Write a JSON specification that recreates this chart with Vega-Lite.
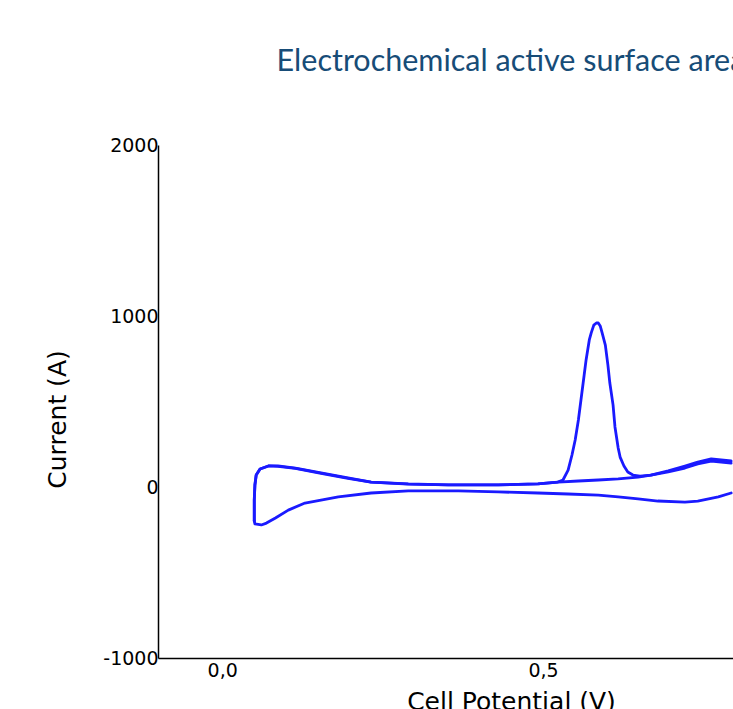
{
  "$schema": "https://vega.github.io/schema/vega-lite/v6.json",
  "autosize": {"type": "none"},
  "padding": {"left": 158, "top": 145, "right": -131, "bottom": 51},
  "width": 706,
  "height": 513,
  "background": "white",
  "title": {
    "text": "Electrochemical active surface area",
    "font": "Lato",
    "fontSize": 30.5,
    "fontWeight": "normal",
    "color": "#174c77",
    "anchor": "middle",
    "offset": 59
  },
  "data": {
    "values": [
      {"seg": "c1", "i": 1, "v": 0.050, "c": -199},
      {"seg": "c1", "i": 2, "v": 0.050, "c": -76},
      {"seg": "c1", "i": 3, "v": 0.051, "c": 12},
      {"seg": "c1", "i": 4, "v": 0.053, "c": 70},
      {"seg": "c1", "i": 5, "v": 0.059, "c": 105},
      {"seg": "c1", "i": 6, "v": 0.072, "c": 123},
      {"seg": "c1", "i": 7, "v": 0.087, "c": 123},
      {"seg": "c1", "i": 8, "v": 0.114, "c": 111},
      {"seg": "c1", "i": 9, "v": 0.154, "c": 82},
      {"seg": "c1", "i": 10, "v": 0.196, "c": 53},
      {"seg": "c1", "i": 11, "v": 0.232, "c": 29},
      {"seg": "c1", "i": 12, "v": 0.290, "c": 18},
      {"seg": "c1", "i": 13, "v": 0.352, "c": 12},
      {"seg": "c1", "i": 14, "v": 0.430, "c": 12},
      {"seg": "c1", "i": 15, "v": 0.492, "c": 18},
      {"seg": "c1", "i": 16, "v": 0.523, "c": 29},
      {"seg": "c1", "i": 17, "v": 0.531, "c": 41},
      {"seg": "c1", "i": 18, "v": 0.539, "c": 99},
      {"seg": "c1", "i": 19, "v": 0.545, "c": 187},
      {"seg": "c1", "i": 20, "v": 0.550, "c": 275},
      {"seg": "c1", "i": 21, "v": 0.555, "c": 392},
      {"seg": "c1", "i": 22, "v": 0.559, "c": 509},
      {"seg": "c1", "i": 23, "v": 0.564, "c": 655},
      {"seg": "c1", "i": 24, "v": 0.567, "c": 743},
      {"seg": "c1", "i": 25, "v": 0.572, "c": 860},
      {"seg": "c1", "i": 26, "v": 0.575, "c": 901},
      {"seg": "c1", "i": 27, "v": 0.579, "c": 947},
      {"seg": "c1", "i": 28, "v": 0.583, "c": 959},
      {"seg": "c1", "i": 29, "v": 0.586, "c": 959},
      {"seg": "c1", "i": 30, "v": 0.589, "c": 942},
      {"seg": "c1", "i": 31, "v": 0.592, "c": 901},
      {"seg": "c1", "i": 32, "v": 0.597, "c": 830},
      {"seg": "c1", "i": 33, "v": 0.601, "c": 713},
      {"seg": "c1", "i": 34, "v": 0.604, "c": 608},
      {"seg": "c1", "i": 35, "v": 0.609, "c": 480},
      {"seg": "c1", "i": 36, "v": 0.612, "c": 351},
      {"seg": "c1", "i": 37, "v": 0.617, "c": 228},
      {"seg": "c1", "i": 38, "v": 0.620, "c": 175},
      {"seg": "c1", "i": 39, "v": 0.626, "c": 123},
      {"seg": "c1", "i": 40, "v": 0.632, "c": 88},
      {"seg": "c1", "i": 41, "v": 0.640, "c": 70},
      {"seg": "c1", "i": 42, "v": 0.651, "c": 64},
      {"seg": "c1", "i": 43, "v": 0.668, "c": 70},
      {"seg": "c1", "i": 44, "v": 0.695, "c": 94},
      {"seg": "c1", "i": 45, "v": 0.721, "c": 123},
      {"seg": "c1", "i": 46, "v": 0.741, "c": 146},
      {"seg": "c1", "i": 47, "v": 0.762, "c": 164},
      {"seg": "c1", "i": 48, "v": 0.793, "c": 152},
      {"seg": "cat", "i": 1, "v": 0.793, "c": -35},
      {"seg": "cat", "i": 2, "v": 0.773, "c": -58},
      {"seg": "cat", "i": 3, "v": 0.741, "c": -82},
      {"seg": "cat", "i": 4, "v": 0.721, "c": -88},
      {"seg": "cat", "i": 5, "v": 0.679, "c": -82},
      {"seg": "cat", "i": 6, "v": 0.648, "c": -70},
      {"seg": "cat", "i": 7, "v": 0.617, "c": -58},
      {"seg": "cat", "i": 8, "v": 0.586, "c": -47},
      {"seg": "cat", "i": 9, "v": 0.539, "c": -41},
      {"seg": "cat", "i": 10, "v": 0.492, "c": -35},
      {"seg": "cat", "i": 11, "v": 0.430, "c": -29},
      {"seg": "cat", "i": 12, "v": 0.368, "c": -23},
      {"seg": "cat", "i": 13, "v": 0.290, "c": -23},
      {"seg": "cat", "i": 14, "v": 0.232, "c": -35},
      {"seg": "cat", "i": 15, "v": 0.181, "c": -58},
      {"seg": "cat", "i": 16, "v": 0.129, "c": -94},
      {"seg": "cat", "i": 17, "v": 0.103, "c": -135},
      {"seg": "cat", "i": 18, "v": 0.083, "c": -181},
      {"seg": "cat", "i": 19, "v": 0.069, "c": -211},
      {"seg": "cat", "i": 20, "v": 0.061, "c": -222},
      {"seg": "cat", "i": 21, "v": 0.051, "c": -216},
      {"seg": "cat", "i": 22, "v": 0.050, "c": -199},
      {"seg": "c2", "i": 1, "v": 0.050, "c": -199},
      {"seg": "c2", "i": 2, "v": 0.050, "c": -76},
      {"seg": "c2", "i": 3, "v": 0.051, "c": 12},
      {"seg": "c2", "i": 4, "v": 0.053, "c": 70},
      {"seg": "c2", "i": 5, "v": 0.059, "c": 105},
      {"seg": "c2", "i": 6, "v": 0.072, "c": 123},
      {"seg": "c2", "i": 7, "v": 0.087, "c": 121},
      {"seg": "c2", "i": 8, "v": 0.114, "c": 109},
      {"seg": "c2", "i": 9, "v": 0.154, "c": 80},
      {"seg": "c2", "i": 10, "v": 0.196, "c": 51},
      {"seg": "c2", "i": 11, "v": 0.232, "c": 28},
      {"seg": "c2", "i": 12, "v": 0.290, "c": 17},
      {"seg": "c2", "i": 13, "v": 0.352, "c": 12},
      {"seg": "c2", "i": 14, "v": 0.430, "c": 12},
      {"seg": "c2", "i": 15, "v": 0.492, "c": 18},
      {"seg": "c2", "i": 16, "v": 0.523, "c": 29},
      {"seg": "c2", "i": 17, "v": 0.555, "c": 35},
      {"seg": "c2", "i": 18, "v": 0.586, "c": 41},
      {"seg": "c2", "i": 19, "v": 0.617, "c": 47},
      {"seg": "c2", "i": 20, "v": 0.648, "c": 58},
      {"seg": "c2", "i": 21, "v": 0.668, "c": 70},
      {"seg": "c2", "i": 22, "v": 0.695, "c": 88},
      {"seg": "c2", "i": 23, "v": 0.721, "c": 111},
      {"seg": "c2", "i": 24, "v": 0.741, "c": 135},
      {"seg": "c2", "i": 25, "v": 0.762, "c": 152},
      {"seg": "c2", "i": 26, "v": 0.793, "c": 140}
    ]
  },
  "mark": {"type": "line", "color": "#1a1aff", "strokeWidth": 2.8, "strokeJoin": "round", "strokeCap": "round"},
  "encoding": {
    "x": {
      "field": "v", "type": "quantitative",
      "scale": {"domain": [-0.1, 1.0], "nice": false, "zero": false},
      "axis": {
        "title": "Cell Potential (V)",
        "values": [0, 0.5],
        "labelExpr": "replace(format(datum.value, '.1f'), '.', ',')",
        "grid": false, "ticks": false,
        "domainColor": "black", "domainWidth": 1.5,
        "labelFont": "DejaVu Sans", "labelFontSize": 19, "labelColor": "black",
        "labelPadding": 3, "labelFlush": false,
        "titleFont": "DejaVu Sans", "titleFontSize": 25, "titleFontWeight": "normal", "titleColor": "black",
        "titlePadding": 9
      }
    },
    "y": {
      "field": "c", "type": "quantitative",
      "scale": {"domain": [-1000, 2000], "nice": false},
      "axis": {
        "title": "Current (A)",
        "values": [-1000, 0, 1000, 2000],
        "labelExpr": "'' + datum.value",
        "grid": false, "ticks": false,
        "domainColor": "black", "domainWidth": 1.5,
        "labelFont": "DejaVu Sans", "labelFontSize": 19, "labelColor": "black",
        "labelPadding": 0, "labelFlush": false,
        "titleFont": "DejaVu Sans", "titleFontSize": 25, "titleFontWeight": "normal", "titleColor": "black",
        "titlePadding": 32, "titleY": 274
      }
    },
    "detail": {"field": "seg"},
    "order": {"field": "i", "type": "quantitative"}
  },
  "config": {"view": {"stroke": null}}
}
